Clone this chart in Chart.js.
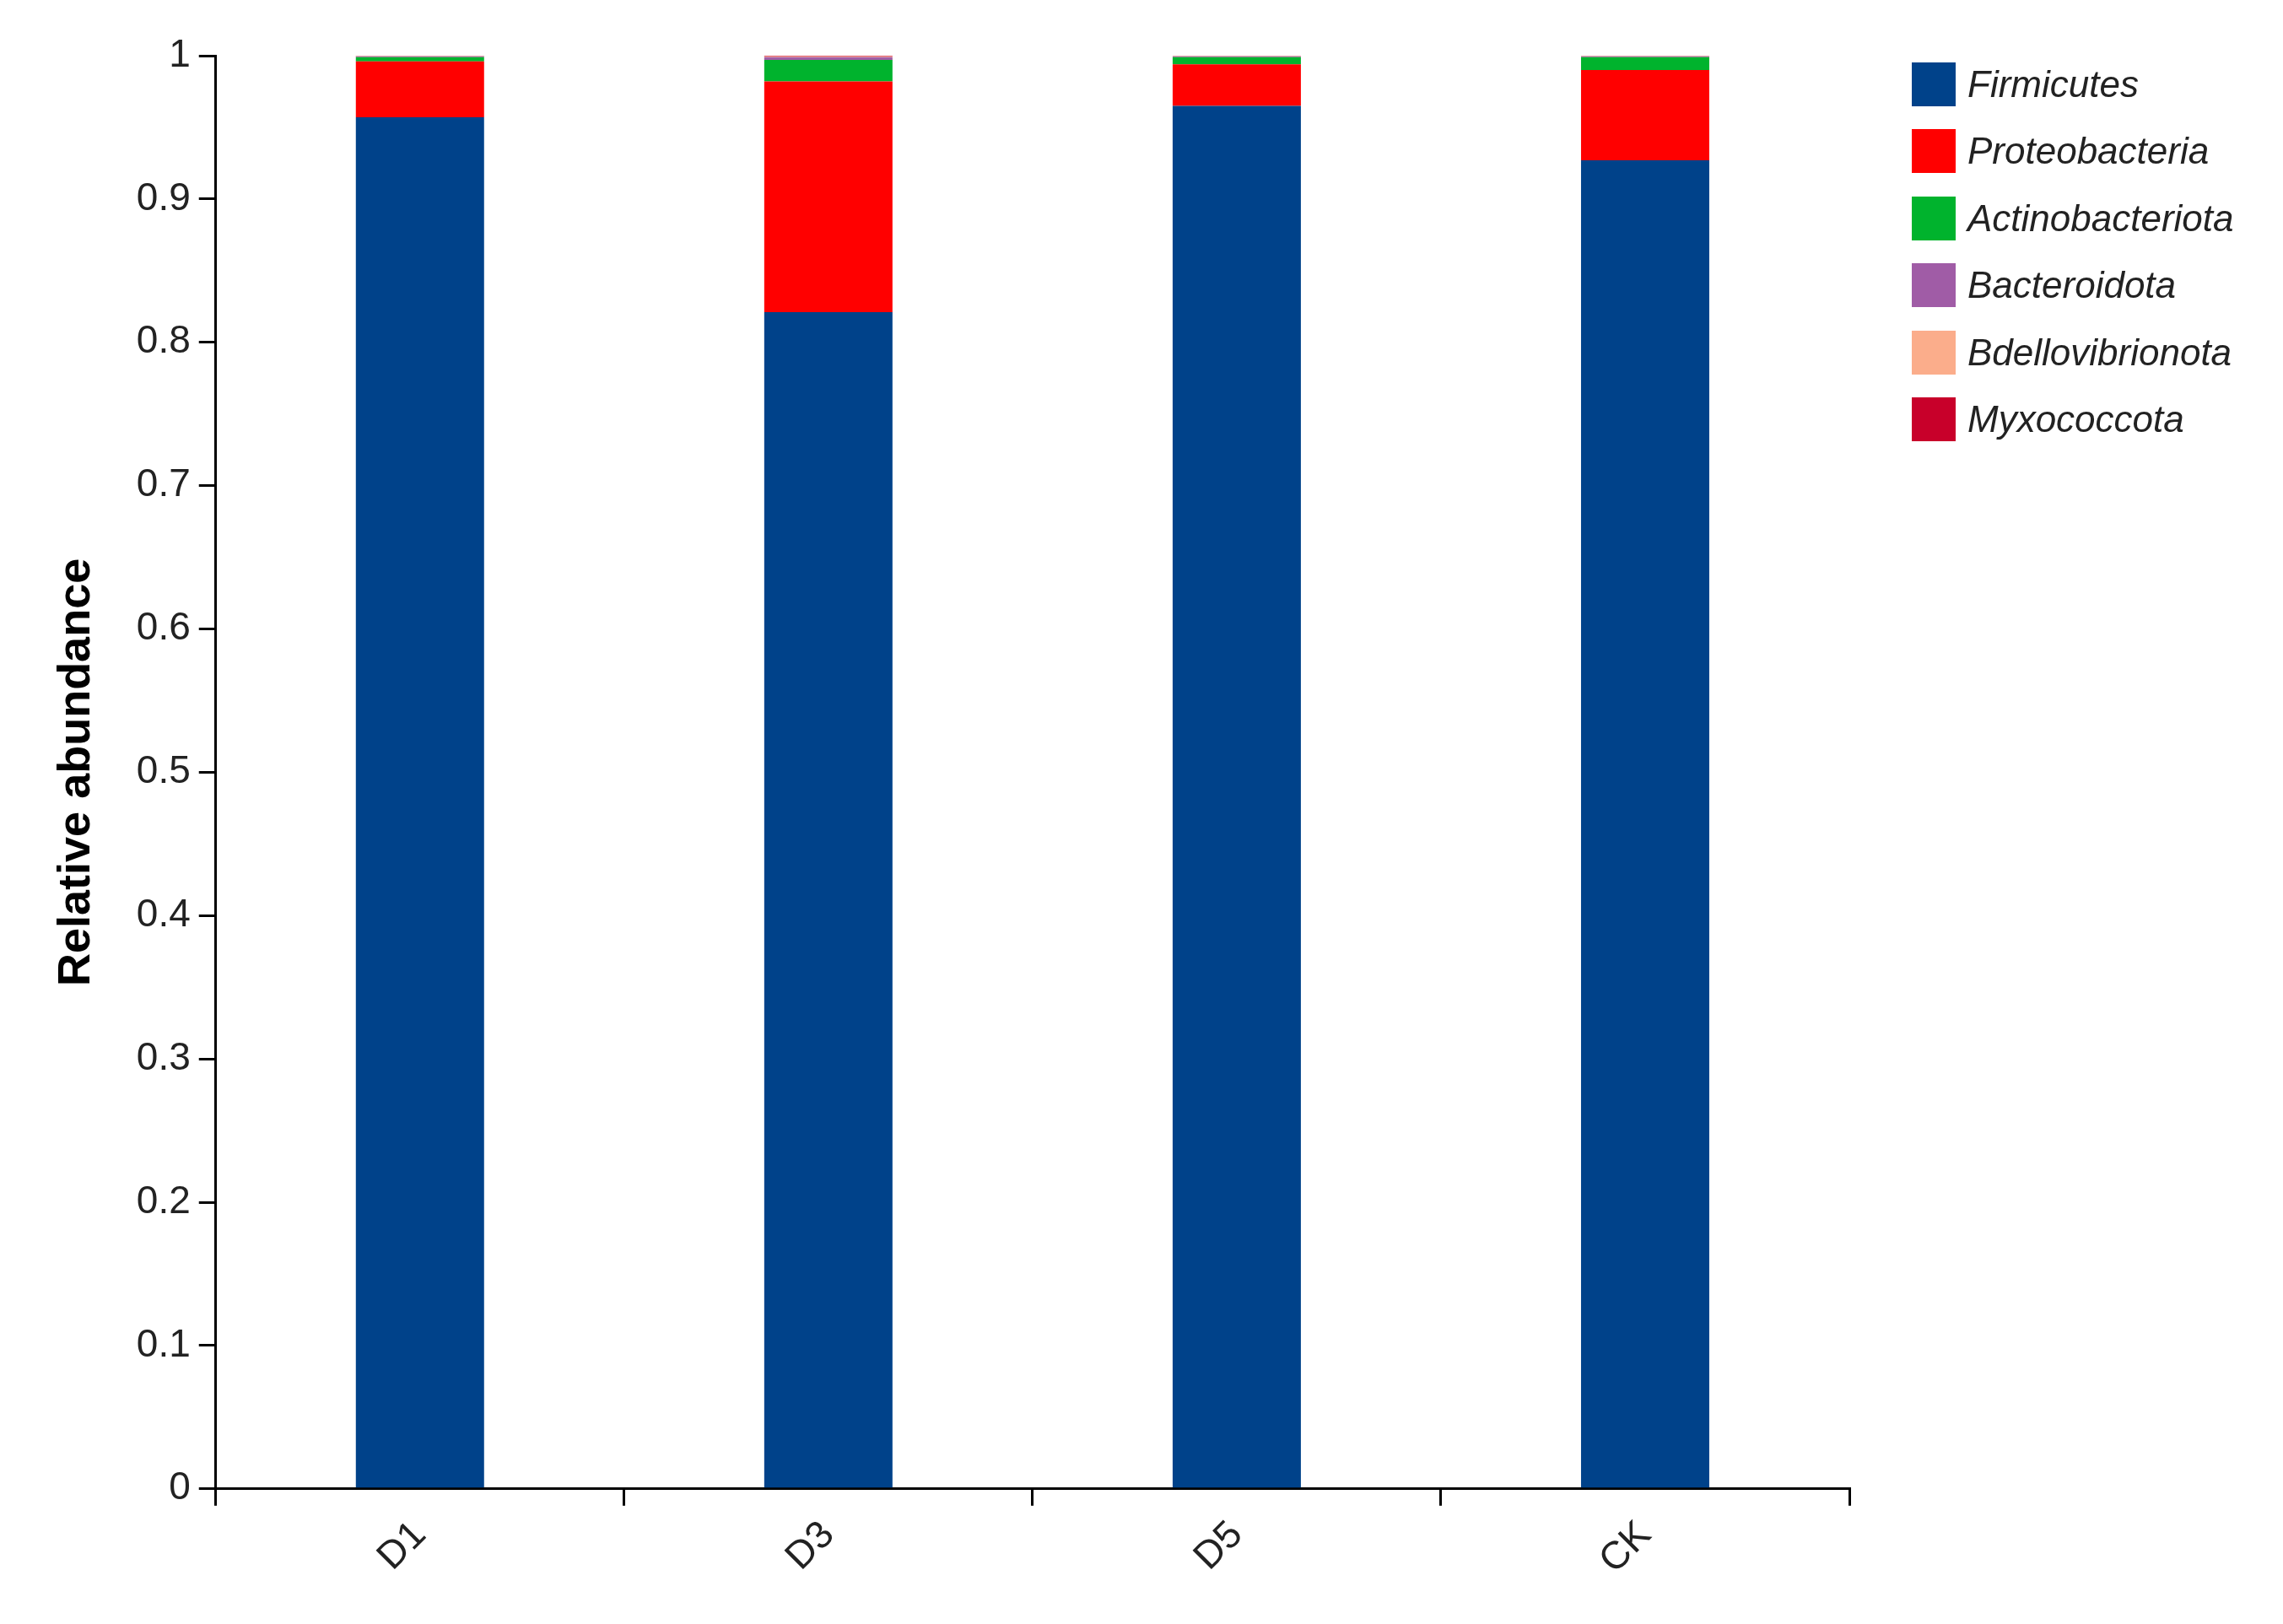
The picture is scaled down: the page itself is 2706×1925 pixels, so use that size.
<!DOCTYPE html>
<html><head><meta charset="utf-8">
<script src="https://cdn.jsdelivr.net/npm/chart.js@4"></script>
<style>
html,body{margin:0;padding:0;background:#fff;}
#wrap{position:relative;width:2706px;height:1925px;}
#legend{position:absolute;left:2266px;top:60px;font-family:"Liberation Sans",Arial,sans-serif;font-style:italic;font-size:44px;color:#222;}
#legend div{display:flex;align-items:center;height:79.5px;}
#legend span{display:inline-block;width:52px;height:52px;margin-right:14px;}
</style></head><body>
<div id="wrap"><canvas id="c" width="2706" height="1925"></canvas><div id="legend"></div></div>
<script>
const categories=["D1","D3","D5","CK"];
const seriesNames=["Firmicutes","Proteobacteria","Actinobacteriota","Bacteroidota","Bdellovibrionota","Myxococcota"];
const colors=["#00428a","#ff0000","#00b32d","#a05ca6","#fbad8b","#c8002a"];
const firmicutes=[0.957,0.821,0.965,0.927];
const proteobacteria=[0.039,0.161,0.029,0.063];
const actinobacteriota=[0.003,0.015,0.005,0.009];
const bacteroidota=[0.0005,0.002,0.0005,0.0005];
const bdellovibrionota=[0.0003,0.0005,0.0003,0.0003];
const myxococcota=[0.0002,0.0005,0.0002,0.0002];
const yTicks=[0,0.1,0.2,0.3,0.4,0.5,0.6,0.7,0.8,0.9,1];
const values=[firmicutes,proteobacteria,actinobacteriota,bacteroidota,bdellovibrionota,myxococcota];
const lg=document.getElementById('legend');
seriesNames.forEach((n,i)=>{lg.innerHTML+=`<div><span style="background:${colors[i]}"></span>${n}</div>`;});
const F="'Liberation Sans',Arial,sans-serif";
new Chart(document.getElementById('c'),{
 type:'bar',
 data:{labels:categories,datasets:seriesNames.map((n,i)=>({label:n,data:values[i],backgroundColor:colors[i],borderWidth:0,categoryPercentage:1,barPercentage:0.314}))},
 options:{responsive:false,animation:false,
  layout:{padding:{left:55,top:66,right:514,bottom:40}},
  plugins:{legend:{display:false},tooltip:{enabled:false}},
  scales:{
   x:{stacked:true,grid:{display:true,drawOnChartArea:false,drawTicks:true,tickLength:20,color:'#000',lineWidth:3},border:{color:'#000',width:3},
      ticks:{color:'#222',font:{family:F,size:46},maxRotation:45,minRotation:45,padding:8}},
   y:{stacked:true,min:0,max:1,afterBuildTicks:a=>{a.ticks=yTicks.map(v=>({value:v}));},
      grid:{display:true,drawOnChartArea:false,drawTicks:true,tickLength:20,color:'#000',lineWidth:3},border:{color:'#000',width:3},
      ticks:{color:'#222',font:{family:F,size:46},padding:10,callback:v=>String(+v.toFixed(1))},
      title:{display:true,text:'Relative abundance',color:'#000',font:{family:F,size:54,weight:'bold'},padding:{bottom:28}}}
  }}
});
</script></body></html>
